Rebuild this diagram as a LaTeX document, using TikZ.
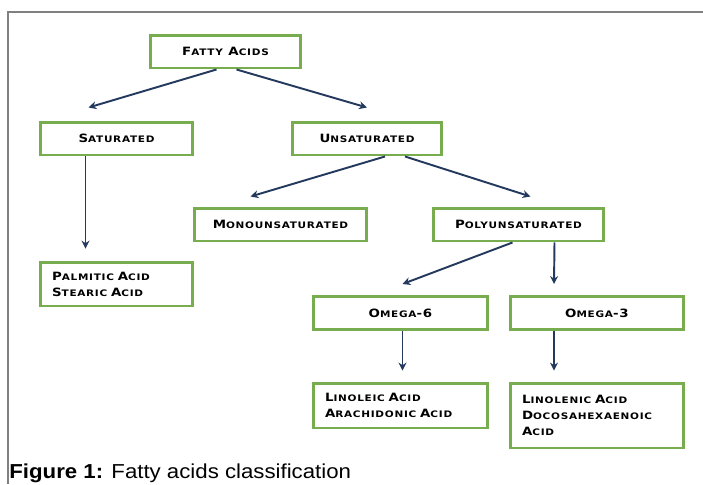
\documentclass[tikz,border=0pt]{standalone}
\usepackage{fontspec}
\setmainfont[FakeStretch=1.17,LetterSpace=8]{DejaVu Sans}
\newfontfamily\capfont{Liberation Sans}
\usetikzlibrary{calc}
\usetikzlibrary{arrows.meta}
\newcommand\sm[1]{{\fontsize{5.1}{6}\selectfont #1}}
\definecolor{boxgreen}{HTML}{77AD4F}
\definecolor{arrowblue}{HTML}{23395D}

\begin{document}
\begin{tikzpicture}[x=0.02cm,y=-0.02cm,
  box/.style={draw=boxgreen,line width=1.7pt,minimum height=0.66cm,font=\fontsize{6.5}{9.1}\selectfont\bfseries},
  listbox/.style={box,align=left,inner xsep=0.24cm},
  arr/.style={arrowblue,line width=1.1pt,-{Stealth[length=4.5pt,width=4.5pt]}}]

\useasboundingbox (0,0) rectangle (703,484);
\draw[gray,line width=1pt] (8,484)--(8,12)--(703,12);

\node[box,minimum width=3.02cm] (fatty) at (225.5,51.5) {F\sm{ATTY} A\sm{CIDS}};
\node[box,minimum width=3.06cm] (sat) at (116.5,138.5) {S\sm{ATURATED}};
\node[box,minimum width=3.0cm] (unsat) at (367,138.5) {U\sm{NSATURATED}};
\node[box,minimum width=3.46cm] (mono) at (280.5,224.5) {M\sm{ONOUNSATURATED}};
\node[box,minimum width=3.42cm] (poly) at (518.5,224.5) {P\sm{OLYUNSATURATED}};
\node[box,minimum width=3.5cm] (om6) at (400.5,313) {O\sm{MEGA}-6};
\node[box,minimum width=3.48cm] (om3) at (597,313) {O\sm{MEGA}-3};

\node[listbox,text width=2.58cm,minimum height=0.88cm] (palm) at (116.5,284) {P\sm{ALMITIC} A\sm{CID}\\S\sm{TEARIC} A\sm{CID}};
\node[listbox,text width=3.02cm,minimum height=0.9cm] (lin6) at (400.5,405.5) {L\sm{INOLEIC} A\sm{CID}\\A\sm{RACHIDONIC} A\sm{CID}};
\node[listbox,text width=3.0cm,minimum height=1.3cm] (lin3) at (597,415.5) {L\sm{INOLENIC} A\sm{CID}\\D\sm{OCOSAHEXAENOIC}\\A\sm{CID}};

\draw[arr] ($(fatty.south)+(-9,0)$) -- ($(sat.north)+(-28,-13)$);
\draw[arr] ($(fatty.south)+(11,0)$) -- ($(unsat.north)+(0,-13)$);
\draw[arr] ($(sat.south)+(-31,0)$) -- ($(palm.north)+(-31,-12)$);
\draw[arr] ($(unsat.south)+(18,0)$) -- ($(mono.north)+(-30,-10)$);
\draw[arr] ($(unsat.south)+(38,0)$) -- ($(poly.north)+(12,-10)$);
\draw[arr] ($(poly.south)+(-6,0)$) -- ($(om6.north)+(2,-11)$);
\draw[arr] ($(poly.south)+(36,0)$) -- ($(om3.north)+(-43,-11)$);
\draw[arr] ($(om6.south)+(2,0)$) -- ($(lin6.north)+(2,-11)$);
\draw[arr] ($(om3.south)+(-43,0)$) -- ($(lin3.north)+(-43,-11)$);

\node[anchor=base west,inner sep=0pt,font=\capfont\fontsize{11.5}{13}\selectfont] (caption) at (9,478) {\scalebox{1.1}[1]{\textbf{Figure 1:} Fatty acids classification}};

\end{tikzpicture}
\end{document}
